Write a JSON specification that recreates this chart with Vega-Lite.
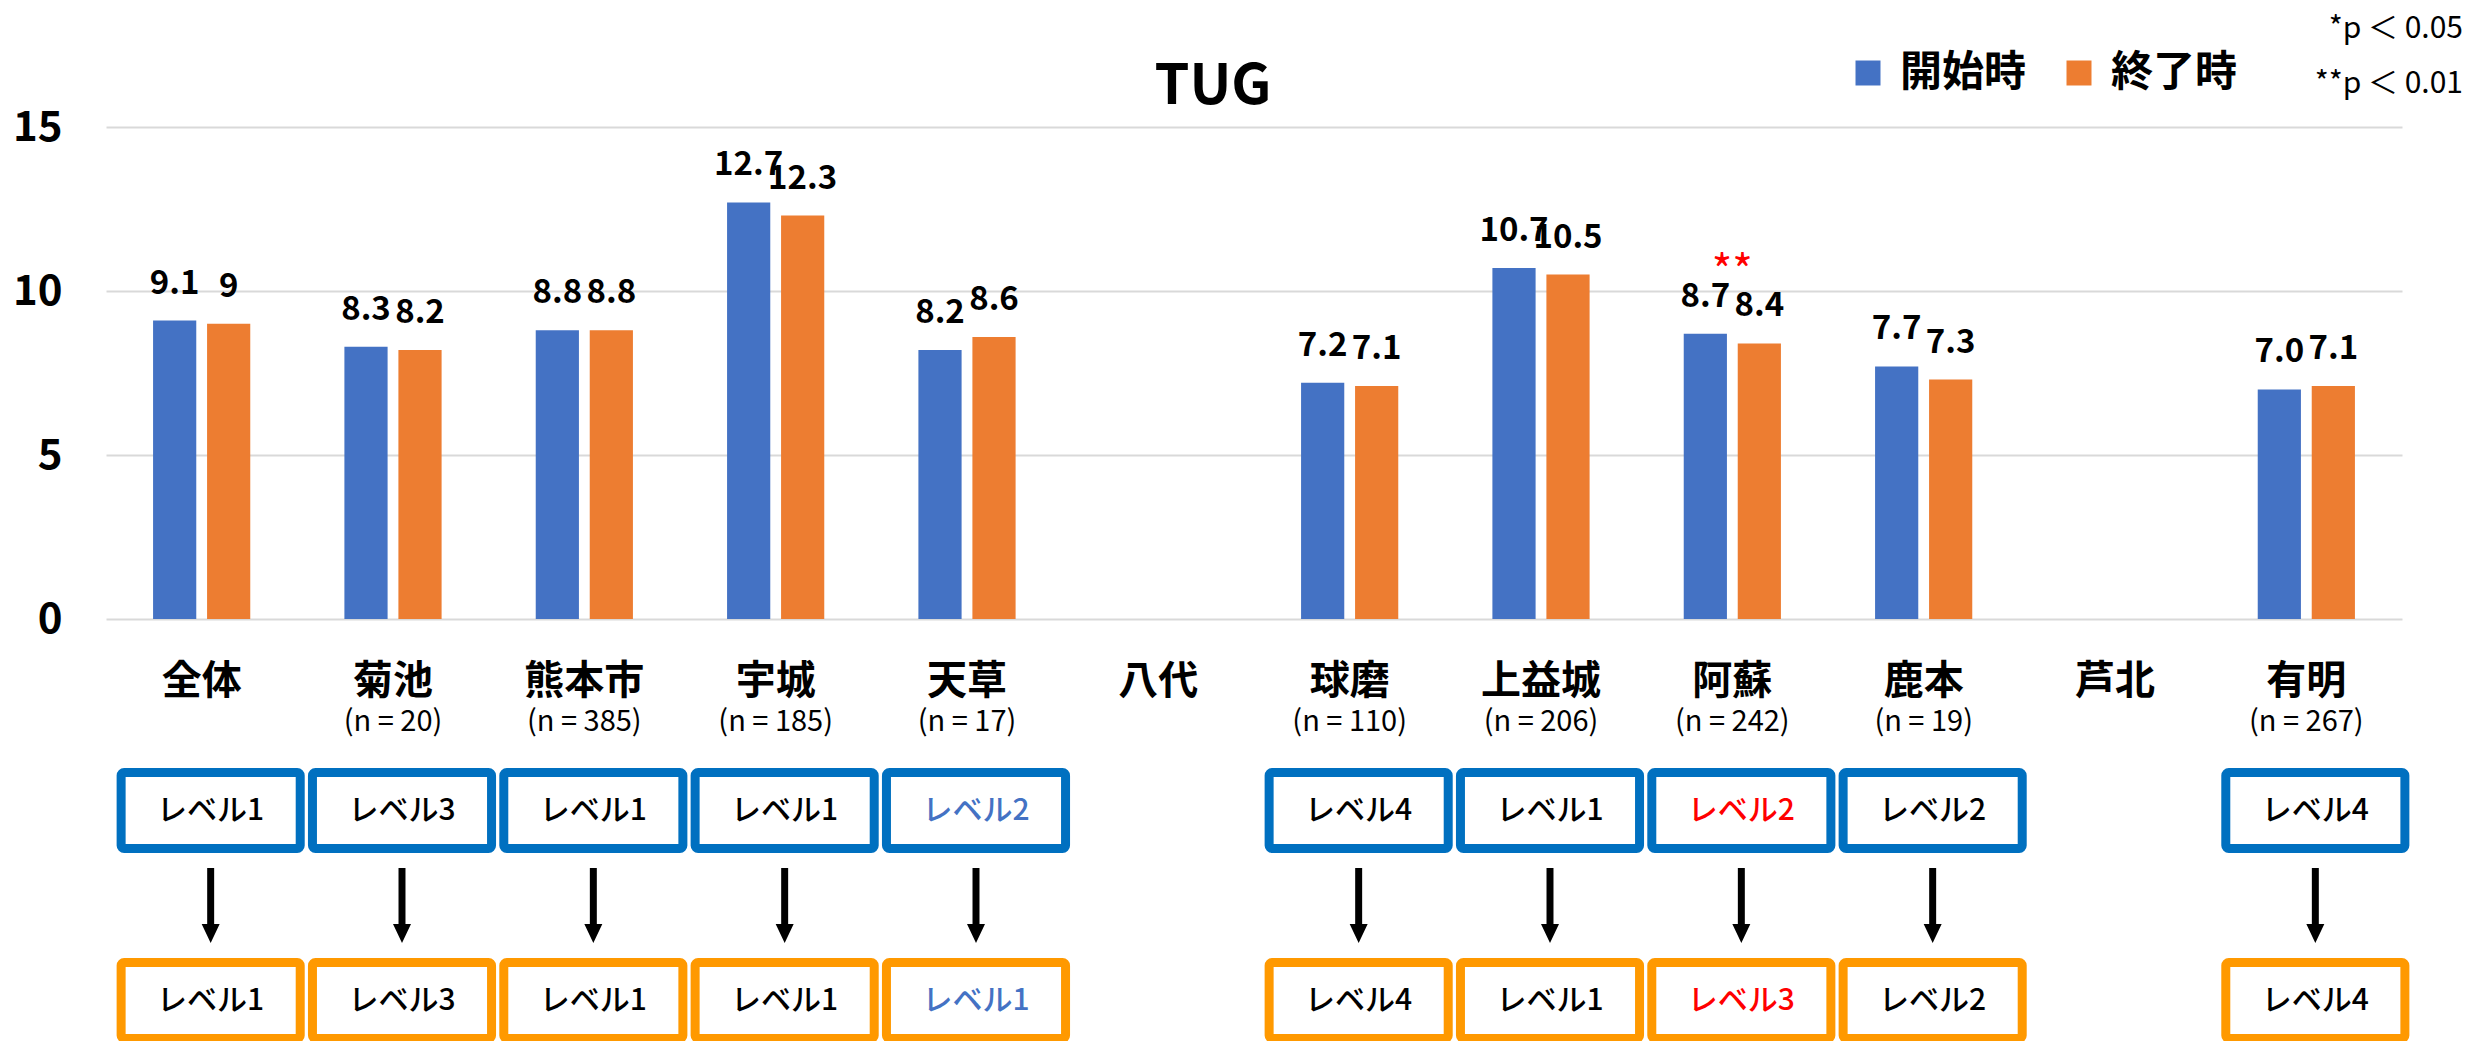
{
  "$schema": "https://vega.github.io/schema/vega-lite/v6.json",
  "width": 2296,
  "height": 914,
  "autosize": {"type": "none"},
  "padding": {"left": 106, "top": 127, "right": 66, "bottom": 0},
  "background": "white",
  "config": {"font": "Noto Sans CJK JP", "view": {"stroke": null}},
  "title": {"text": "TUG", "fontSize": 56, "fontWeight": "bold", "color": "#000000", "anchor": "middle", "frame": "group", "dx": -41, "offset": 0, "dy": 146, "baseline": "alphabetic"},
  "datasets": {
    "bars": [
      {"region": "全体", "period": "開始時", "value": 9.1, "label": "9.1"},
      {"region": "全体", "period": "終了時", "value": 9.0, "label": "9"},
      {"region": "菊池", "period": "開始時", "value": 8.3, "label": "8.3"},
      {"region": "菊池", "period": "終了時", "value": 8.2, "label": "8.2"},
      {"region": "熊本市", "period": "開始時", "value": 8.8, "label": "8.8"},
      {"region": "熊本市", "period": "終了時", "value": 8.8, "label": "8.8"},
      {"region": "宇城", "period": "開始時", "value": 12.7, "label": "12.7"},
      {"region": "宇城", "period": "終了時", "value": 12.3, "label": "12.3"},
      {"region": "天草", "period": "開始時", "value": 8.2, "label": "8.2"},
      {"region": "天草", "period": "終了時", "value": 8.6, "label": "8.6"},
      {"region": "球磨", "period": "開始時", "value": 7.2, "label": "7.2"},
      {"region": "球磨", "period": "終了時", "value": 7.1, "label": "7.1"},
      {"region": "上益城", "period": "開始時", "value": 10.7, "label": "10.7"},
      {"region": "上益城", "period": "終了時", "value": 10.5, "label": "10.5"},
      {"region": "阿蘇", "period": "開始時", "value": 8.7, "label": "8.7"},
      {"region": "阿蘇", "period": "終了時", "value": 8.4, "label": "8.4"},
      {"region": "鹿本", "period": "開始時", "value": 7.7, "label": "7.7"},
      {"region": "鹿本", "period": "終了時", "value": 7.3, "label": "7.3"},
      {"region": "有明", "period": "開始時", "value": 7.0, "label": "7.0"},
      {"region": "有明", "period": "終了時", "value": 7.1, "label": "7.1"}
    ],
    "info": [
      {"region": "全体", "n": null, "start": "レベル1", "end": "レベル1", "change": "変化なし"},
      {"region": "菊池", "n": "(n = 20)", "start": "レベル3", "end": "レベル3", "change": "変化なし"},
      {"region": "熊本市", "n": "(n = 385)", "start": "レベル1", "end": "レベル1", "change": "変化なし"},
      {"region": "宇城", "n": "(n = 185)", "start": "レベル1", "end": "レベル1", "change": "変化なし"},
      {"region": "天草", "n": "(n = 17)", "start": "レベル2", "end": "レベル1", "change": "レベル低下"},
      {"region": "八代", "n": null, "start": null, "end": null, "change": null},
      {"region": "球磨", "n": "(n = 110)", "start": "レベル4", "end": "レベル4", "change": "変化なし"},
      {"region": "上益城", "n": "(n = 206)", "start": "レベル1", "end": "レベル1", "change": "変化なし"},
      {"region": "阿蘇", "n": "(n = 242)", "start": "レベル2", "end": "レベル3", "change": "レベル上昇"},
      {"region": "鹿本", "n": "(n = 19)", "start": "レベル2", "end": "レベル2", "change": "変化なし"},
      {"region": "芦北", "n": null, "start": null, "end": null, "change": null},
      {"region": "有明", "n": "(n = 267)", "start": "レベル4", "end": "レベル4", "change": "変化なし"}
    ],
    "sig": [
      {"region": "阿蘇", "mark": "**", "value": 8.7, "level": "**p ＜ 0.01"}
    ]
  },
  "layer": [
    {
      "layer": [
        {
          "data": {"name": "bars"},
          "mark": {"type": "bar"},
          "encoding": {
            "x": {"field": "region", "type": "nominal", "title": null, "axis": null,
                  "scale": {"domain": ["全体", "菊池", "熊本市", "宇城", "天草", "八代", "球磨", "上益城", "阿蘇", "鹿本", "芦北", "有明"], "paddingInner": 0.492, "paddingOuter": 0.246}},
            "xOffset": {"field": "period", "type": "nominal", "scale": {"domain": ["開始時", "終了時"], "paddingInner": 0.2, "paddingOuter": 0}},
            "y": {"field": "value", "type": "quantitative", "title": null,
                  "scale": {"domain": [0, 15], "range": [492, 0], "nice": false, "zero": true},
                  "axis": {"values": [0, 5, 10, 15], "format": "d", "grid": true, "gridColor": "#D9D9D9", "gridWidth": 2, "domain": false, "ticks": false, "labelFontSize": 42, "labelFontWeight": "bold", "labelColor": "#000000", "labelPadding": 44, "title": null}},
            "color": {"field": "period", "type": "nominal", "title": null,
                      "scale": {"domain": ["開始時", "終了時"], "range": ["#4472C4", "#ED7D31"]},
                      "legend": {"orient": "none", "legendX": 1741, "legendY": -75, "direction": "horizontal", "title": null, "symbolType": "square", "symbolSize": 625, "symbolStrokeWidth": 0, "labelFontSize": 42, "labelFontWeight": "bold", "labelColor": "#000000", "labelOffset": 11, "columnPadding": 31, "padding": 0, "labelLimit": 400}}
          }
        },
        {
          "data": {"name": "bars"},
          "mark": {"type": "text", "fontSize": 33, "fontWeight": "bold", "color": "#000000", "baseline": "alphabetic", "dy": -27},
          "encoding": {
            "x": {"field": "region", "type": "nominal", "title": null, "axis": null},
            "xOffset": {"field": "period", "type": "nominal"},
            "y": {"field": "value", "type": "quantitative", "title": null},
            "text": {"field": "label"}
          }
        },
        {
          "data": {"name": "sig"},
          "mark": {"type": "text", "fontSize": 44, "color": "#FF0000", "baseline": "alphabetic", "dy": -47},
          "encoding": {
            "x": {"field": "region", "type": "nominal", "title": null, "axis": null},
            "y": {"field": "value", "type": "quantitative", "title": null},
            "text": {"field": "mark"},
            "opacity": {"field": "level", "type": "nominal", "title": null,
                        "scale": {"domain": ["*p ＜ 0.05", "**p ＜ 0.01"], "range": [1, 1]},
                        "legend": {"orient": "none", "legendX": 2327, "legendY": -113, "direction": "vertical", "title": null, "symbolSize": 0, "symbolOpacity": 0, "symbolStrokeWidth": 0, "labelOffset": 0, "labelAlign": "right", "labelFontSize": 30, "labelColor": "#000000", "rowPadding": 25, "padding": 0, "labelLimit": 400}}
          }
        },
        {
          "data": {"name": "info"},
          "mark": {"type": "text", "fontSize": 40, "fontWeight": "bold", "color": "#000000", "baseline": "middle", "dy": 63},
          "encoding": {
            "x": {"field": "region", "type": "nominal", "title": null, "axis": null},
            "y": {"datum": 0, "type": "quantitative", "title": null},
            "text": {"field": "region"}
          }
        },
        {
          "data": {"name": "info"},
          "transform": [{"filter": "datum.n != null"}],
          "mark": {"type": "text", "fontSize": 29, "color": "#000000", "baseline": "middle", "dy": 103},
          "encoding": {
            "x": {"field": "region", "type": "nominal", "title": null, "axis": null},
            "y": {"datum": 0, "type": "quantitative", "title": null},
            "text": {"field": "n"}
          }
        }
      ]
    },
    {
      "layer": [
        {
          "data": {"name": "info"},
          "transform": [{"filter": "datum.start != null"}, {"fold": ["start", "end"], "as": ["stage", "level"]}],
          "mark": {"type": "rect", "fill": "white", "strokeWidth": 9, "cornerRadius": 3},
          "encoding": {
            "x": {"field": "region", "type": "nominal", "title": null, "axis": null,
                  "scale": {"domain": ["全体", "菊池", "熊本市", "宇城", "天草", "八代", "球磨", "上益城", "阿蘇", "鹿本", "芦北", "有明"], "range": [9, 2305], "paddingInner": 0.064, "paddingOuter": 0.032}},
            "y": {"field": "stage", "type": "nominal", "title": null, "axis": null,
                  "scale": {"domain": ["start", "arrow", "end"], "range": [645.5, 911.5], "paddingInner": 0.2, "paddingOuter": 0}},
            "stroke": {"field": "stage", "type": "nominal", "scale": {"domain": ["start", "end"], "range": ["#0070C0", "#FF9900"]}, "legend": null}
          }
        },
        {
          "data": {"name": "info"},
          "transform": [{"filter": "datum.start != null"}, {"fold": ["start", "end"], "as": ["stage", "level"]}],
          "mark": {"type": "text", "fontSize": 30, "fontWeight": 500, "baseline": "middle"},
          "encoding": {
            "x": {"field": "region", "type": "nominal", "title": null, "axis": null},
            "y": {"field": "stage", "type": "nominal", "title": null, "axis": null},
            "text": {"field": "level"},
            "fill": {"field": "change", "type": "nominal", "scale": {"domain": ["変化なし", "レベル低下", "レベル上昇"], "range": ["#000000", "#4472C4", "#FF0000"]}, "legend": null}
          }
        },
        {
          "data": {"name": "info"},
          "transform": [{"filter": "datum.start != null"}],
          "mark": {"type": "point", "shape": "M-0.093,-1L0.093,-1L0.093,0.49L0.24,0.49L0,1L-0.24,0.49L-0.093,0.49Z", "size": 5625, "filled": true, "color": "#000000", "opacity": 1, "strokeWidth": 0},
          "encoding": {
            "x": {"field": "region", "type": "nominal", "title": null, "axis": null},
            "y": {"datum": "arrow", "type": "nominal", "title": null, "axis": null}
          }
        }
      ]
    }
  ],
  "resolve": {"scale": {"x": "independent", "y": "independent"}}
}
